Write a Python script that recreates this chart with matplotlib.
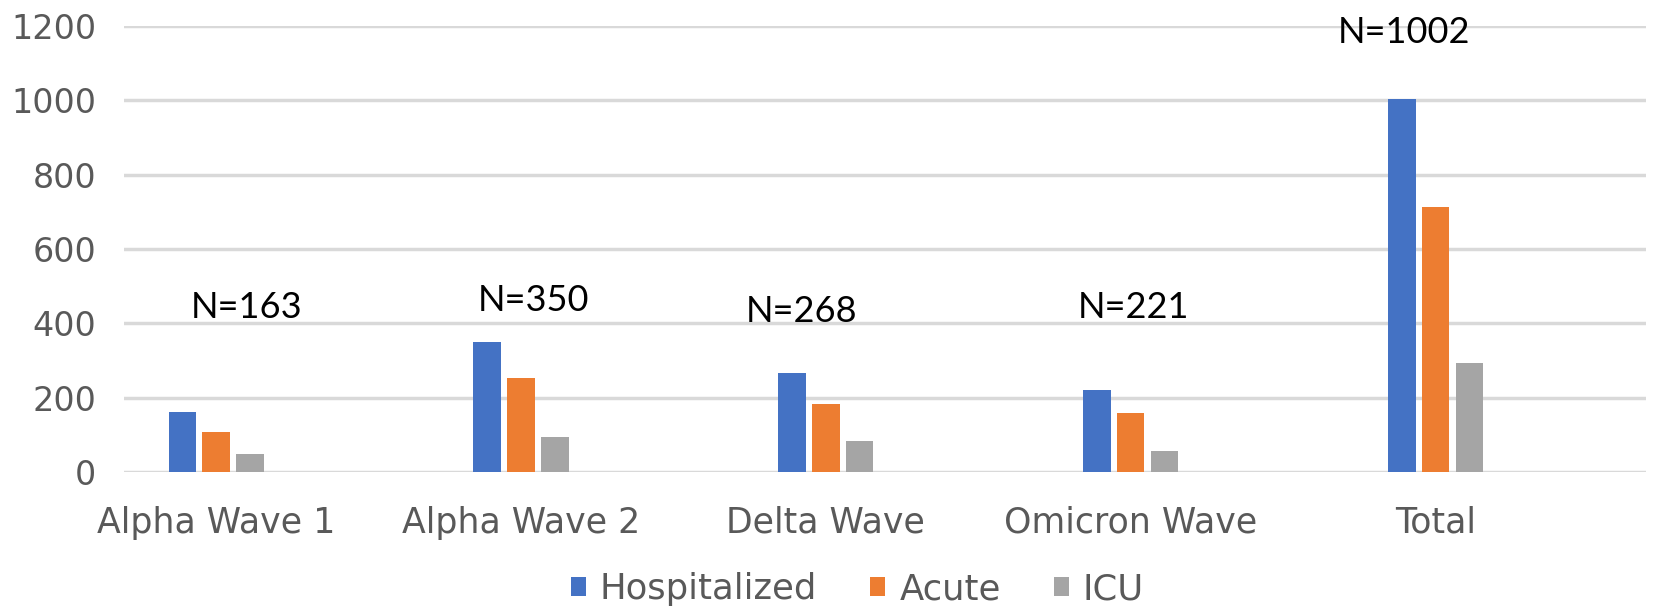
import matplotlib
matplotlib.use("Agg")
import matplotlib.pyplot as plt
import numpy as np

categories = ["Alpha Wave 1", "Alpha Wave 2", "Delta Wave", "Omicron Wave", "Total"]
hospitalized = [163, 350, 268, 221, 1002]
acute = [109, 255, 184, 159, 713]
icu = [50, 95, 84, 59, 294]
n_labels = ["N=163", "N=350", "N=268", "N=221", "N=1002"]

# where the N= labels sit (offset from category centre, height in data units)
n_dx = [0.10, 0.04, -0.08, 0.01, -0.105]
n_y = [444, 462, 433, 444, 1180]

blue = "#4472C4"
orange = "#ED7D31"
grey = "#A5A5A5"
tick_col = "#595959"

fig = plt.figure(figsize=(16.65, 6.08), dpi=100)
ax = fig.add_axes([0.0745, 0.2229, 0.9141, 0.7351])

x = np.arange(len(categories))
pitch = 0.111
w = 0.09
ax.bar(x - pitch, hospitalized, w, color=blue, label="Hospitalized", zorder=3)
ax.bar(x, acute, w, color=orange, label="Acute", zorder=3)
ax.bar(x + pitch, icu, w, color=grey, label="ICU", zorder=3)

for i, t in enumerate(n_labels):
    ax.text(x[i] + n_dx[i], n_y[i], t, ha="center", va="center",
            fontsize=26, family="Lato", color="black")

ax.set_xlim(-0.302, 4.69)
ax.set_ylim(0, 1200)
ax.set_yticks(range(0, 1201, 200))
ax.yaxis.grid(True, color="#D9D9D9", linewidth=2.5, zorder=0)
ax.set_axisbelow(True)
for s in ax.spines.values():
    s.set_visible(False)

ax.set_xticks(x)
ax.set_xticklabels(categories)
ax.tick_params(axis="both", length=0, labelcolor=tick_col)
ax.tick_params(axis="y", pad=20, labelsize=24)
ax.tick_params(axis="x", pad=24, labelsize=25)

fig.legend(loc="center", bbox_to_anchor=(0.515, 0.031), ncol=3, frameon=False,
           fontsize=25.5, labelcolor=tick_col, handlelength=0.42, handleheight=0.42,
           handletextpad=0.4, columnspacing=1.5)

fig.savefig("out.png", dpi=100)
